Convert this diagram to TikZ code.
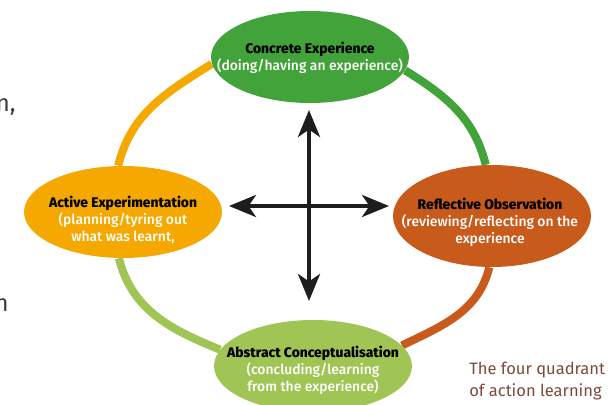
\documentclass[tikz,border=0pt]{standalone}
\usepackage{fontspec}
\setmainfont{Fira Sans}
\newfontfamily\semibold{Fira Sans Medium}
\usepackage{xcolor}
\usepackage{tikz}
\usetikzlibrary{shapes.geometric, arrows.meta, positioning, backgrounds}

\definecolor{ceGreen}{HTML}{42A33A}
\definecolor{roOrange}{HTML}{C85A1B}
\definecolor{aeAmber}{HTML}{F5A800}
\definecolor{acLime}{HTML}{A0C555}
\definecolor{crossBlack}{HTML}{1D1D1B}
\definecolor{capBrown}{HTML}{7D4A3A}
\definecolor{bodyGray}{HTML}{3C3C3C}

\begin{document}
\begin{tikzpicture}
  [
    x=0.02cm, y=-0.02cm,
    Blob/.style={ellipse, draw=none, inner sep=0pt, minimum width=3.96cm, minimum height=1.84cm},
    Words/.style={align=center, inner sep=0pt, text=white, font=\fontsize{7.9}{9.6}\selectfont\semibold},
    Ring/.style={line width=4.6pt},
    Cross/.style={draw=crossBlack, line width=0.8mm,
      {Stealth[length=5.4mm, width=4.4mm, inset=1.5mm]}-{Stealth[length=5.4mm, width=4.4mm, inset=1.5mm]}}
  ]
  \useasboundingbox (0,0) rectangle (613,405);

  % Nodes
  \node[Blob, fill=ceGreen] (ce) at (310, 57) {};
  \node[Blob, fill=roOrange, minimum height=2.04cm] (ro) at (492, 216) {};
  \node[Blob, fill=aeAmber] (ae) at (123, 212) {};
  \node[Blob, fill=acLime] (ac) at (313, 366) {};

  \node[Words] (ce-t) at (310, 58) {\textcolor{black}{\bfseries Concrete Experience}\\(doing/having an experience)};
  \node[Words] (ro-t) at (490, 222) {\textcolor{black}{\bfseries Reflective Observation}\\(reviewing/reflecting on the\\experience};
  \node[Words] (ae-t) at (123, 220) {\textcolor{black}{\bfseries Active Experimentation}\\(planning/tyring out\\what was learnt,};
  \node[Words] (ac-t) at (313, 370) {\textcolor{black}{\bfseries Abstract Conceptualisation}\\(concluding/learning\\from the experience)};

  \node[anchor=north west, align=left, inner sep=0pt, text=capBrown,
        font=\fontsize{9.4}{12.6}\selectfont] (caption) at (469, 362)
        {The four quadrant\\of action learning};
  \node[anchor=base east, inner sep=0pt, text=bodyGray, font=\fontsize{13.6}{16}\selectfont] (frag1) at (16, 112) {n,};
  \node[anchor=base east, inner sep=0pt, text=bodyGray, font=\fontsize{13.6}{16}\selectfont] (frag2) at (9, 312) {n};

  \coordinate (up) at (309, 110);
  \coordinate (down) at (309, 301);
  \coordinate (left) at (229, 206);
  \coordinate (right) at (389, 206);

  % Lines
  \begin{scope}[on background layer]
    \path [draw=aeAmber, Ring] (ce.184) to[out=212, in=76] (ae.96);
    \path [draw=ceGreen, Ring] (ce.-8) to[out=-32, in=104] (ro.97);
    \path [draw=acLime, Ring] (ae.-95) to[out=-76, in=158] (ac.170);
    \path [draw=roOrange, Ring] (ro.-93) to[out=-104, in=26] (ac.13);
  \end{scope}

  \path [Cross] (up) -- (down);
  \path [Cross] (left) -- (right);

\end{tikzpicture}
\end{document}
